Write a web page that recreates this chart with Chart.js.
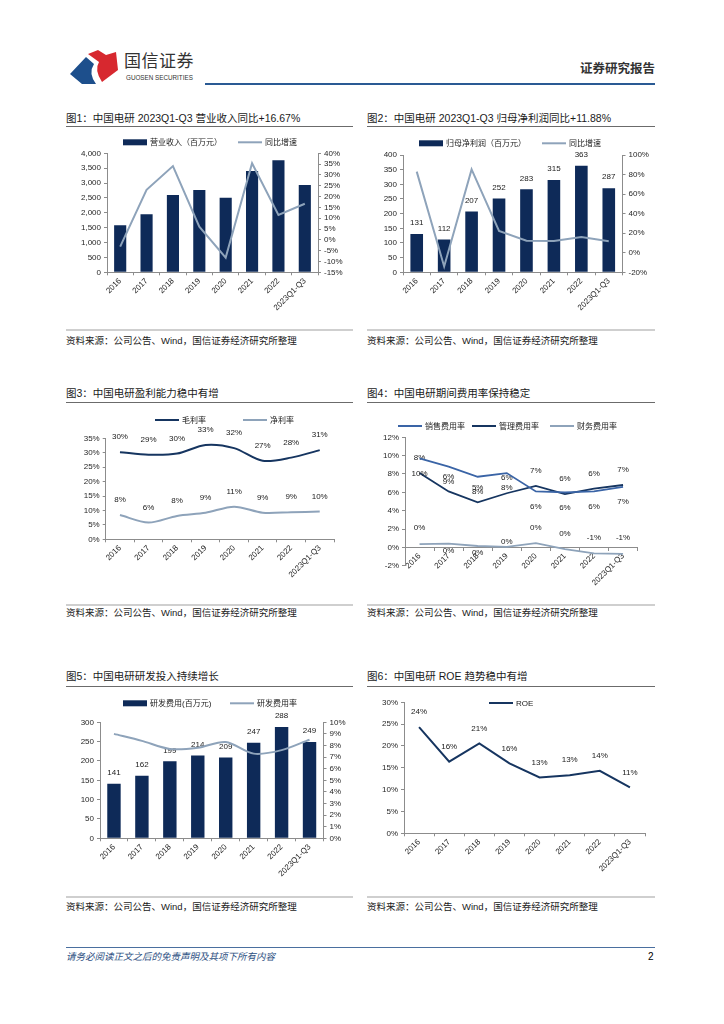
<!DOCTYPE html>
<html>
<head>
<meta charset="utf-8">
<script src="https://cdn.jsdelivr.net/npm/chart.js@4.4.0/dist/chart.umd.min.js"></script>
<style>
  body { margin: 0; width: 724px; height: 1024px; background: #fff; position: relative; overflow: hidden;
         font-family: "Liberation Sans", "Noto Sans CJK SC", sans-serif; color: #1a1a1a; }
  .abs { position: absolute; white-space: nowrap; }
  .title { position: absolute; font-size: 10.5px; line-height: 14px; white-space: nowrap; }
  .src { position: absolute; font-size: 9.5px; line-height: 14px; white-space: nowrap; }
  .rule { position: absolute; height: 1px; background: #6b6b6b; }
  .rule2 { position: absolute; height: 1.5px; background: #cfcfcf; }
  canvas { position: absolute; }
</style>
</head>
<body>

<svg class="abs" style="left:68px;top:48px" width="52" height="38" viewBox="0 0 52 38">
  <path d="M2 26 L18 9 L26 16 Q20 25 28 36 L14 36 Z" fill="#1d4f8c"/>
  <path d="M20 6 L30 2 L38 7 L48 4 L50 22 L34 34 Q26 22 31 14 Z" fill="#d7282f"/>
</svg>
<div class="abs" style="left:124px;top:52px;font-size:17px;line-height:20px;color:#333;letter-spacing:0.5px">国信证券</div>
<div class="abs" style="left:126px;top:74px;font-size:6.3px;line-height:8px;color:#333">GUOSEN SECURITIES</div>
<div class="abs" style="left:580px;top:61px;font-size:12.5px;line-height:16px;font-weight:bold;color:#333">证券研究报告</div>
<div class="abs" style="left:205px;top:83px;width:450px;height:2px;background:#2a5a94"></div>

<div class="title" style="left:66px;top:111px">图1：中国电研 2023Q1-Q3 营业收入同比+16.67%</div>
<div class="rule" style="left:66px;top:126px;width:287px"></div>
<div class="title" style="left:367px;top:111px">图2：中国电研 2023Q1-Q3 归母净利润同比+11.88%</div>
<div class="rule" style="left:367px;top:126px;width:288px"></div>
<div class="rule2" style="left:66px;top:329px;width:287px"></div>
<div class="src" style="left:66px;top:334px">资料来源：公司公告、Wind，国信证券经济研究所整理</div>
<div class="rule2" style="left:367px;top:329px;width:288px"></div>
<div class="src" style="left:367px;top:334px">资料来源：公司公告、Wind，国信证券经济研究所整理</div>

<div class="title" style="left:66px;top:386px">图3：中国电研盈利能力稳中有增</div>
<div class="rule" style="left:66px;top:402px;width:287px"></div>
<div class="title" style="left:367px;top:386px">图4：中国电研期间费用率保持稳定</div>
<div class="rule" style="left:367px;top:402px;width:288px"></div>
<div class="rule2" style="left:66px;top:604px;width:287px"></div>
<div class="src" style="left:66px;top:606px">资料来源：公司公告、Wind，国信证券经济研究所整理</div>
<div class="rule2" style="left:367px;top:604px;width:288px"></div>
<div class="src" style="left:367px;top:606px">资料来源：公司公告、Wind，国信证券经济研究所整理</div>

<div class="title" style="left:66px;top:669px">图5：中国电研研发投入持续增长</div>
<div class="rule" style="left:66px;top:686px;width:287px"></div>
<div class="title" style="left:367px;top:669px">图6：中国电研 ROE 趋势稳中有增</div>
<div class="rule" style="left:367px;top:686px;width:288px"></div>
<div class="rule2" style="left:66px;top:896px;width:287px"></div>
<div class="src" style="left:66px;top:900px">资料来源：公司公告、Wind，国信证券经济研究所整理</div>
<div class="rule2" style="left:367px;top:896px;width:288px"></div>
<div class="src" style="left:367px;top:900px">资料来源：公司公告、Wind，国信证券经济研究所整理</div>

<div class="abs" style="left:66px;top:947px;width:589px;height:1px;background:#4a6f9f"></div>
<div class="abs" style="left:66px;top:950px;font-size:9.5px;line-height:14px;font-style:italic;color:#2d4f82">请务必阅读正文之后的免责声明及其项下所有内容</div>
<div class="abs" style="left:648px;top:950px;font-size:10px;line-height:14px;color:#000">2</div>

<canvas id="c1"></canvas>
<canvas id="c2"></canvas>
<canvas id="c3"></canvas>
<canvas id="c4"></canvas>
<canvas id="c5"></canvas>
<canvas id="c6"></canvas>

<script>
const years = ['2016', '2017', '2018', '2019', '2020', '2021', '2022', '2023Q1-Q3'];

// 图1 营业收入
const revenue = [1580, 1950, 2600, 2765, 2510, 3405, 3765, 2935];
const revenueYoy = [-3.1, 23.1, 34.1, 6.1, -8.2, 35.4, 11.5, 16.67];
const revAxis = [0, 4000, 500];
const revYoyAxis = [-15, 40, 5];

// 图2 归母净利润
const netProfit = [131, 112, 207, 252, 283, 315, 363, 287];
const netProfitYoy = [83, -14, 85.3, 22.3, 12.4, 12, 16, 11.88];
const profitAxis = [0, 400, 50];
const profitYoyAxis = [-20, 100, 20];

// 图3 毛利率 / 净利率
const grossMargin = [30.2, 29.3, 29.7, 32.7, 31.6, 27.2, 28.3, 30.9];
const netMargin = [8.4, 5.8, 8.1, 9.2, 11.3, 9.2, 9.4, 9.6];
const marginAxis = [0, 35, 5];

// 图4 期间费用率
const sellingRate = [9.7, 8.8, 7.7, 8.1, 6.1, 6.0, 6.1, 6.6];
const adminRate = [8.1, 6.1, 4.9, 5.9, 6.7, 5.8, 6.4, 6.8];
const financeRate = [0.35, 0.4, 0.15, 0.05, 0.45, -0.2, -0.65, -0.7];
const financeLabelDy = [-16, 7, 7, -5, -15, -15, -16, -16];
const expenseAxis = [-2, 12, 2];

// 图5 研发
const rdExpense = [141, 162, 199, 214, 209, 247, 288, 249];
const rdRate = [9.0, 8.4, 7.7, 7.8, 8.3, 7.3, 7.6, 8.5];
const rdAxis = [0, 300, 50];
const rdRateAxis = [0, 10, 1];

// 图6 ROE
const roe = [24.3, 16.4, 20.6, 16.0, 12.8, 13.3, 14.3, 10.5];
const roeAxis = [0, 30, 5];

const NAVY = '#0e2a58';
const DARK = '#163560';
const MID = '#3a64a6';
const LIGHT = '#8ea3ba';
const AXIS = '#8c8c8c';
const FONT = '"Liberation Sans", "Noto Sans CJK SC", sans-serif';

Chart.defaults.font.family = FONT;
Chart.defaults.font.size = 8;
Chart.defaults.color = '#262626';
Chart.defaults.animation = false;
Chart.defaults.plugins.legend.display = false;
Chart.defaults.plugins.tooltip.enabled = false;

const pct = v => v + '%';
const thousands = v => v.toLocaleString('en-US');
const roundPct = v => Math.round(v) + '%';

// legend drawn at fixed spots, like the report
const keyLegend = {
  id: 'keyLegend',
  afterDraw(chart, args, opts) {
    if (!opts.x) return;
    const ctx = chart.ctx;
    ctx.save();
    ctx.font = '8px ' + FONT;
    ctx.textBaseline = 'middle';
    chart.data.datasets.forEach((ds, i) => {
      const x = opts.x[i];
      if (x === undefined) return;
      const y = opts.y;
      const isBar = (ds.type || chart.config.type) === 'bar';
      if (isBar) {
        ctx.fillStyle = ds.backgroundColor;
        ctx.fillRect(x, y - 3, 24, 6);
      } else {
        ctx.strokeStyle = ds.borderColor;
        ctx.lineWidth = 2;
        ctx.beginPath();
        ctx.moveTo(x, y);
        ctx.lineTo(x + 24, y);
        ctx.stroke();
      }
      ctx.fillStyle = '#1a1a1a';
      ctx.fillText(ds.label, x + 27, y + 0.5);
    });
    ctx.restore();
  }
};

const valueLabels = {
  id: 'valueLabels',
  afterDatasetDraw(chart, args) {
    const ds = chart.data.datasets[args.index];
    if (ds.labelDy === undefined) return;
    const ctx = chart.ctx;
    ctx.save();
    ctx.font = '8px ' + FONT;
    ctx.fillStyle = '#1a1a1a';
    ctx.textAlign = 'center';
    ctx.textBaseline = 'middle';
    args.meta.data.forEach((el, j) => {
      const dy = Array.isArray(ds.labelDy) ? ds.labelDy[j] : ds.labelDy;
      ctx.fillText(ds.labelFmt(ds.data[j]), el.x, el.y + dy);
    });
    ctx.restore();
  }
};

Chart.register(keyLegend, valueLabels);

function xAxis(extra) {
  return Object.assign({
    offset: true,
    grid: { offset: true, drawOnChartArea: false, tickLength: 3, color: AXIS },
    border: { color: AXIS },
    ticks: { autoSkip: false, minRotation: 45, maxRotation: 45, padding: 1 }
  }, extra || {});
}

function yAxis(range, fmt, side) {
  return {
    position: side || 'left',
    min: range[0],
    max: range[1],
    grid: { drawOnChartArea: false, tickLength: 3, color: AXIS },
    border: { color: AXIS },
    ticks: { stepSize: range[2], autoSkip: false, padding: 3, callback: fmt }
  };
}

function lineSet(label, data, color, extra) {
  return Object.assign({
    type: 'line', label, data, borderColor: color, backgroundColor: color,
    borderWidth: 2, pointRadius: 0, tension: 0, order: 0
  }, extra || {});
}

function barSet(label, data, extra) {
  return Object.assign({
    type: 'bar', label, data, backgroundColor: NAVY,
    barPercentage: 0.46, categoryPercentage: 1, order: 1
  }, extra || {});
}

// box / plot: [left, top, right, bottom] in page pixels
function place(id, box, plot, legend, config) {
  const cv = document.getElementById(id);
  const w = box[2] - box[0], h = box[3] - box[1];
  cv.style.left = box[0] + 'px';
  cv.style.top = box[1] + 'px';
  cv.style.width = w + 'px';
  cv.style.height = h + 'px';
  cv.width = w;
  cv.height = h;
  const sc = config.options.scales;
  const floatingX = typeof sc.x.position === 'object';
  config.options.responsive = false;
  config.options.maintainAspectRatio = false;
  config.options.layout = {
    padding: {
      top: plot[1] - box[1],
      left: 0,
      right: sc.y1 ? 0 : box[2] - plot[2],
      bottom: floatingX ? box[3] - plot[3] : 0
    }
  };
  sc.y.afterFit = s => { s.width = plot[0] - box[0]; };
  if (sc.y1) sc.y1.afterFit = s => { s.width = box[2] - plot[2]; };
  if (!floatingX) sc.x.afterFit = s => { s.height = box[3] - plot[3]; };
  config.options.plugins = config.options.plugins || {};
  config.options.plugins.keyLegend = { y: legend.y - box[1], x: legend.x.map(v => v - box[0]) };
  return new Chart(cv, config);
}

// 图1
place('c1', [66, 130, 353, 328], [107, 153.3, 318, 272.3], { y: 142.3, x: [123, 238] }, {
  type: 'bar',
  data: {
    labels: years,
    datasets: [
      barSet('营业收入（百万元）', revenue, { yAxisID: 'y' }),
      lineSet('同比增速', revenueYoy, LIGHT, { yAxisID: 'y1' })
    ]
  },
  options: {
    scales: {
      x: xAxis(),
      y: yAxis(revAxis, thousands),
      y1: yAxis(revYoyAxis, pct, 'right')
    }
  }
});

// 图2
place('c2', [366, 130, 655, 328], [403, 155, 622.5, 272.3], { y: 143.3, x: [419, 542] }, {
  type: 'bar',
  data: {
    labels: years,
    datasets: [
      barSet('归母净利润（百万元）', netProfit, { yAxisID: 'y', labelDy: -11, labelFmt: v => String(v) }),
      lineSet('同比增速', netProfitYoy, LIGHT, { yAxisID: 'y1' })
    ]
  },
  options: {
    scales: {
      x: xAxis(),
      y: yAxis(profitAxis, v => v),
      y1: yAxis(profitYoyAxis, pct, 'right')
    }
  }
});

// 图3
place('c3', [66, 405, 353, 600], [105.7, 438.3, 334, 539.3], { y: 420, x: [155, 243] }, {
  type: 'line',
  data: {
    labels: years,
    datasets: [
      lineSet('毛利率', grossMargin, DARK, { tension: 0.3, labelDy: -15, labelFmt: roundPct }),
      lineSet('净利率', netMargin, LIGHT, { tension: 0.3, labelDy: -15, labelFmt: roundPct })
    ]
  },
  options: {
    scales: {
      x: xAxis(),
      y: yAxis(marginAxis, pct)
    }
  }
});

// 图4
place('c4', [366, 405, 655, 600], [405, 437.3, 637.6, 565.7], { y: 426, x: [398, 472, 550] }, {
  type: 'line',
  data: {
    labels: years,
    datasets: [
      lineSet('销售费用率', sellingRate, MID, { borderWidth: 1.8, labelDy: 15, labelFmt: roundPct }),
      lineSet('管理费用率', adminRate, DARK, { borderWidth: 1.8, labelDy: -15, labelFmt: roundPct }),
      lineSet('财务费用率', financeRate, LIGHT, { borderWidth: 1.8, labelDy: financeLabelDy, labelFmt: roundPct })
    ]
  },
  options: {
    scales: {
      x: xAxis({ position: { y: 0 } }),
      y: yAxis(expenseAxis, pct)
    }
  }
});

// 图5
place('c5', [66, 690, 353, 893], [100, 722.3, 323.5, 838.3], { y: 703.3, x: [123, 230] }, {
  type: 'bar',
  data: {
    labels: years,
    datasets: [
      barSet('研发费用(百万元)', rdExpense, { yAxisID: 'y', barPercentage: 0.48, labelDy: -11, labelFmt: v => String(v) }),
      lineSet('研发费用率', rdRate, LIGHT, { yAxisID: 'y1', tension: 0.3 })
    ]
  },
  options: {
    scales: {
      x: xAxis(),
      y: yAxis(rdAxis, v => v),
      y1: yAxis(rdRateAxis, pct, 'right')
    }
  }
});

// 图6
place('c6', [366, 690, 655, 893], [404, 702.3, 645, 833.3], { y: 703, x: [489] }, {
  type: 'line',
  data: {
    labels: years,
    datasets: [
      lineSet('ROE', roe, DARK, { labelDy: -15, labelFmt: roundPct })
    ]
  },
  options: {
    scales: {
      x: xAxis(),
      y: yAxis(roeAxis, pct)
    }
  }
});
</script>
</body>
</html>
